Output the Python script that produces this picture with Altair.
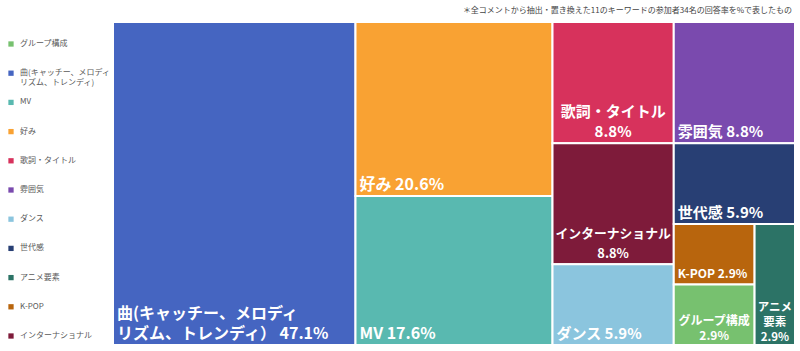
import altair as alt
import pandas as pd

# ---------------- data ----------------
respondents = 34
categories = ["曲(キャッチー、メロディ\nリズム、トレンディ)", "好み", "MV", "歌詞・タイトル", "雰囲気",
              "インターナショナル", "ダンス", "世代感", "K-POP", "グループ構成", "アニメ要素"]
counts = [16, 7, 6, 3, 3, 3, 2, 2, 1, 1, 1]
tile_names = ["曲(キャッチー、メロディ\nリズム、トレンディ）", "好み", "MV", "歌詞・タイトル", "雰囲気",
              "インターナショナル", "ダンス", "世代感", "K-POP", "グループ構成", "アニメ\n要素"]
label_sep = [" ", " ", " ", "\n", " ", "\n", " ", " ", " ", "\n", "\n"]

legend_order = ["グループ構成", "曲(キャッチー、メロディ\nリズム、トレンディ)", "MV", "好み", "歌詞・タイトル",
                "雰囲気", "ダンス", "世代感", "アニメ要素", "K-POP", "インターナショナル"]
legend_colors = ["#77C16F", "#4565C1", "#59B9B0", "#F9A233", "#D7325C",
                 "#7A4AAE", "#8BC5DE", "#283F74", "#2C7366", "#B8650D", "#7E1B3A"]

note = "＊全コメントから抽出・置き換えた11のキーワードの参加者34名の回答率を%で表したもの"

# ---------------- squarified treemap layout ----------------
W, H = 682, 323
FONT = "Noto Sans CJK JP"


def normalize(sizes, dx, dy):
    total = sum(sizes)
    return [s * dx * dy / total for s in sizes]


def layout_row(sizes, x, y, dx, dy):
    width = sum(sizes) / dy
    out = []
    for s in sizes:
        out.append((x, y, width, s / width))
        y += s / width
    return out


def layout_col(sizes, x, y, dx, dy):
    height = sum(sizes) / dx
    out = []
    for s in sizes:
        out.append((x, y, s / height, height))
        x += s / height
    return out


def layout(sizes, x, y, dx, dy):
    return layout_row(sizes, x, y, dx, dy) if dx >= dy else layout_col(sizes, x, y, dx, dy)


def leftover(sizes, x, y, dx, dy):
    if dx >= dy:
        width = sum(sizes) / dy
        return x + width, y, dx - width, dy
    height = sum(sizes) / dx
    return x, y + height, dx, dy - height


def worst(sizes, x, y, dx, dy):
    return max(max(w / h, h / w) for (_, _, w, h) in layout(sizes, x, y, dx, dy))


def squarify(sizes, x, y, dx, dy):
    if not sizes:
        return []
    if len(sizes) == 1:
        return layout(sizes, x, y, dx, dy)
    i = 1
    while i < len(sizes) and worst(sizes[:i], x, y, dx, dy) >= worst(sizes[:i + 1], x, y, dx, dy):
        i += 1
    cur, rest = sizes[:i], sizes[i:]
    return layout(cur, x, y, dx, dy) + squarify(rest, *leftover(cur, x, y, dx, dy))


rects = squarify(normalize(counts, W, H), 0, 0, W, H)


def em_width(s):
    w = 0.0
    for ch in s:
        if ord(ch) >= 0x2E80:
            w += 1.0
        elif ch == " ":
            w += 0.25
        elif ch.isdigit():
            w += 0.56
        elif ch in ".,":
            w += 0.28
        elif ch == "%":
            w += 0.88
        elif ch in "()-":
            w += 0.36
        else:
            w += 0.68
    return w


rows = []
for name, tname, c, sep, (x, y, w, h) in zip(categories, tile_names, counts, label_sep, rects):
    pct = round(c / respondents * 100, 1)
    label = f"{tname}{sep}{pct:.1f}%"
    lines = label.split("\n")
    cap = 16 if c >= 6 else (15 if c >= 2 else 12)
    longest = max(em_width(line) for line in lines)
    fs = min(cap, (w - 6) / longest)
    align = "center" if sep == "\n" else "left"
    group = "small" if c == 1 else "big"
    rows.append(dict(name=name, label=label, nlines=len(lines), x0=x, x1=x + w, y0=y, y1=y + h,
                     xc=x + w / 2, fs=fs, align=align, group=group))

df = pd.DataFrame(rows)

xs = alt.Scale(domain=[0, W], nice=False, zero=False)
ys = alt.Scale(domain=[0, H], nice=False, zero=False, reverse=True)

base = alt.Chart(df)

tiles = base.mark_rect(stroke="white", strokeWidth=2).encode(
    x=alt.X("x0:Q", scale=xs, axis=None),
    x2="x1:Q",
    y=alt.Y("y0:Q", scale=ys, axis=None),
    y2="y1:Q",
    color=alt.Color(
        "name:N",
        scale=alt.Scale(domain=legend_order, range=legend_colors),
        legend=alt.Legend(
            title=None, orient="none", legendX=-106, legendY=18, direction="vertical",
            symbolType="square", symbolSize=28, symbolStrokeWidth=0,
            labelFont=FONT, labelFontSize=8, labelColor="#595959", labelOffset=5,
            labelLimit=150, rowPadding=11.2, gridAlign="all",
            labelExpr="split(datum.label, '\\n')",
        ),
    ),
)

text_props = dict(font=FONT, fontWeight="bold", color="white", baseline="bottom", lineBreak="\n")


def label_layer(cond, align, xfield, lh, dx, dy):
    return base.transform_filter(cond).transform_calculate(
        yt=f"datum.y1 - (datum.nlines - 1) * {lh}"
    ).mark_text(align=align, dx=dx, dy=dy, lineHeight=lh, **text_props).encode(
        x=alt.X(f"{xfield}:Q", scale=xs, axis=None),
        y=alt.Y("yt:Q", scale=ys, axis=None),
        text="label:N",
        size=alt.Size("fs:Q", scale=None),
    )


left_text = label_layer("datum.align == 'left'", "left", "x0", 20, 4, -3)
center_big = label_layer("datum.align == 'center' && datum.group == 'big'", "center", "xc", 20, 0, -3)
center_small = label_layer("datum.align == 'center' && datum.group == 'small'", "center", "xc", 15, 0, -2)

chart = alt.layer(tiles, left_text, center_big, center_small).properties(
    width=W, height=H,
    autosize="none",
    padding={"left": 113, "top": 22, "right": 5, "bottom": 6},
    title=alt.TitleParams(note, anchor="end", font=FONT, fontSize=8, fontWeight="normal",
                          color="#444444", offset=6, dx=-4),
).configure_view(stroke=None).configure(background="white")

chart.save("out.html", embed_options={"renderer": "svg", "actions": False})
